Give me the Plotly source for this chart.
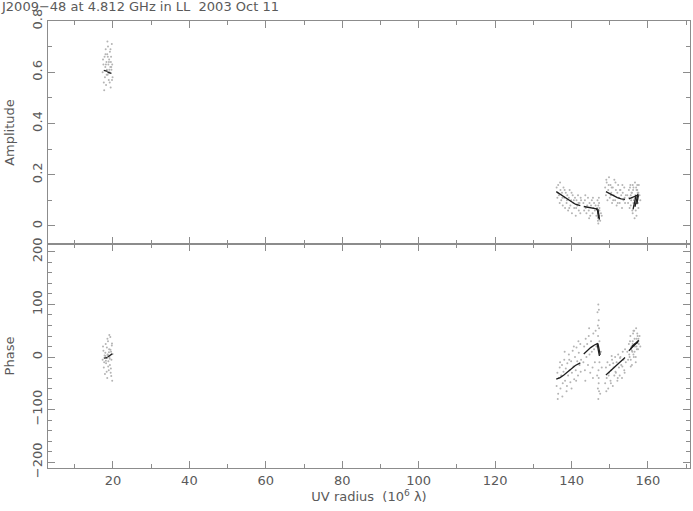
import plotly.graph_objects as go
from plotly.subplots import make_subplots

TITLE = "J2009\u221248 at 4.812 GHz in LL  2003 Oct 11"

# ---- observed visibilities (UV radius in 10^6 lambda, amplitude, phase deg) ----
u_g1 = [17.3,17.5,17.6,17.8,17.9,18.0,18.1,18.2,18.3,18.4,18.5,18.6,18.7,18.8,18.9,19.0,19.1,19.2,19.3,19.4,
        19.5,19.6,19.7,19.8,19.9,17.4,17.7,18.05,18.35,18.55,18.75,18.95,19.15,19.35,19.55,19.75,18.15,18.65,19.05,19.45]
amp_g1 = [0.60,0.63,0.56,0.66,0.58,0.62,0.69,0.55,0.64,0.61,0.67,0.59,0.70,0.63,0.57,0.65,0.60,0.68,0.62,0.54,
          0.66,0.61,0.71,0.63,0.58,0.65,0.53,0.67,0.59,0.72,0.60,0.64,0.56,0.69,0.62,0.57,0.63,0.66,0.61,0.64]
ph_g1 = [-5,12,-20,3,-32,8,25,-12,-2,18,-40,5,30,-8,-25,15,0,-15,38,-30,
         10,-5,22,-45,6,20,-10,2,-28,35,-18,9,-3,14,-36,26,-7,4,42,-22]

u_a = [136.1,136.3,136.5,136.7,136.9,137.1,137.3,137.5,137.7,137.9,138.1,138.3,138.5,138.7,138.9,139.1,139.3,
       139.5,139.7,139.9,140.1,140.3,140.5,140.7,140.9,141.1,141.3,141.5,141.7,141.9,142.1,142.3,142.5,
       136.4,137.0,137.6,138.2,138.8,139.4,140.0,140.6,141.2,141.8,142.4]
amp_a = [0.15,0.11,0.16,0.12,0.09,0.14,0.10,0.13,0.08,0.15,0.11,0.07,0.13,0.09,0.12,0.06,0.11,
         0.14,0.08,0.10,0.05,0.12,0.09,0.07,0.11,0.04,0.10,0.08,0.12,0.06,0.09,0.05,0.10,
         0.13,0.17,0.11,0.14,0.10,0.07,0.13,0.10,0.07,0.09,0.11]
ph_a = [-55,-30,-70,-40,-20,-60,-35,-15,-50,-28,-5,-45,-22,-65,-12,-35,5,
        -25,-48,-8,-30,12,-18,-42,0,-25,18,-8,-35,8,-15,25,-5,
        -80,-10,-75,10,-55,-5,-60,20,-45,30,-28]

u_b = [143.1,143.3,143.5,143.7,143.9,144.1,144.3,144.5,144.7,144.9,145.1,145.3,145.5,145.7,145.9,146.1,146.3,
       146.5,146.7,146.9,147.1,147.3,147.5,147.7,147.9,146.8,146.9,147.0,147.0,147.1,147.1,147.2,147.2,147.3,
       146.95,147.05,147.15,143.6,144.6,145.6]
amp_b = [0.09,0.06,0.10,0.07,0.05,0.08,0.11,0.06,0.09,0.04,0.08,0.10,0.05,0.07,0.09,0.06,0.08,
         0.04,0.07,0.05,0.03,0.06,0.02,0.05,0.04,0.10,0.02,0.08,0.01,0.06,0.03,0.09,0.04,0.07,
         0.05,0.03,0.11,0.12,0.03,0.11]
ph_b = [-10,20,-25,35,0,25,-15,40,5,-30,30,10,-20,45,15,-10,50,
        20,-35,60,-50,30,-70,10,-20,85,-60,100,-80,70,-40,55,-65,-10,
        40,-25,90,-45,55,-40]

u_c = [148.8,149.0,149.2,149.4,149.6,149.8,150.0,150.2,150.4,150.6,150.8,151.0,151.2,151.4,151.6,151.8,152.0,
       152.2,152.4,152.6,152.8,153.0,153.2,153.4,153.6,153.8,154.0,154.2,
       149.1,149.7,150.3,150.9,151.5,152.1,152.7,153.3,153.9,150.5]
amp_c = [0.15,0.12,0.17,0.10,0.14,0.19,0.11,0.16,0.13,0.09,0.15,0.12,0.18,0.10,0.14,0.08,0.13,
         0.16,0.11,0.09,0.14,0.12,0.07,0.13,0.10,0.15,0.09,0.12,
         0.18,0.16,0.12,0.10,0.17,0.09,0.14,0.16,0.11,0.15]
ph_c = [-50,-20,-40,-10,-60,-30,-15,-45,-25,-5,-55,-20,-35,0,-30,-10,-45,
        5,-20,-35,0,-15,-40,10,-5,-25,15,-10,
        -65,-35,-50,-12,-28,-40,-2,-18,-30,2]

u_d = [154.6,154.8,155.0,155.2,155.4,155.6,155.8,156.0,156.2,156.4,156.6,156.8,157.0,157.2,157.4,157.6,157.8,158.0,
       155.1,155.3,155.5,155.7,155.9,156.1,156.3,156.5,156.7,156.9,157.1,157.3,157.5,155.5,156.0,156.5,157.0,157.5,
       156.2,156.8,155.8,157.2]
amp_d = [0.12,0.09,0.14,0.07,0.16,0.10,0.13,0.05,0.15,0.08,0.17,0.11,0.04,0.14,0.09,0.16,0.12,0.10,
         0.11,0.15,0.08,0.13,0.06,0.14,0.10,0.03,0.12,0.15,0.09,0.13,0.07,0.12,0.16,0.11,0.14,0.13,
         0.09,0.06,0.11,0.16]
ph_d = [10,-5,25,0,40,15,-15,30,5,50,20,-10,35,45,15,25,40,20,
        5,30,-18,20,10,45,0,35,25,55,15,40,30,-5,25,10,20,35,
        50,0,12,28]

# ---- model curves: (u list, amplitude list) / (u list, phase list) per baseline track ----
model_amp = [
    ([17.6, 18.6], [0.607, 0.603]),
    ([18.6, 19.6], [0.600, 0.596]),
    ([136.0, 137.0, 138.0, 139.0, 140.0, 141.0, 142.3], [0.134, 0.124, 0.113, 0.102, 0.093, 0.085, 0.079]),
    ([143.2, 144.0, 145.0, 146.0, 146.9], [0.076, 0.074, 0.071, 0.068, 0.066]),
    ([146.5, 146.8, 146.95, 147.05], [0.068, 0.060, 0.045, 0.030]),
    ([146.9, 147.1, 147.2, 147.3], [0.066, 0.055, 0.040, 0.025]),
    ([149.0, 150.0, 151.0, 152.0, 153.0, 154.0], [0.134, 0.126, 0.118, 0.111, 0.106, 0.104]),
    ([155.0, 155.8, 156.6, 157.4], [0.106, 0.110, 0.116, 0.122]),
    ([156.9, 156.6, 156.3, 156.1], [0.120, 0.100, 0.080, 0.065]),
    ([157.4, 157.1, 156.8, 156.6], [0.125, 0.105, 0.090, 0.075]),
    ([157.5, 157.3, 157.1], [0.120, 0.100, 0.085]),
]
model_ph = [
    ([17.6, 18.6], [-2, -1]),
    ([18.6, 19.8], [0, 6]),
    ([136.0, 137.0, 138.0, 139.0, 140.0, 141.0, 142.3], [-42, -39, -34, -28, -22, -16, -11]),
    ([143.2, 144.0, 145.0, 146.0, 146.9], [6, 12, 18, 23, 26]),
    ([146.9, 147.1, 147.3, 147.5], [26, 20, 12, 4]),
    ([146.7, 146.9, 147.1, 147.3], [25, 18, 10, 2]),
    ([149.0, 150.0, 151.0, 152.0, 153.0, 154.0], [-34, -28, -21, -14, -7, -1]),
    ([155.0, 155.8, 156.6, 157.4], [12, 18, 24, 30]),
    ([155.4, 156.2, 157.0, 157.6], [16, 22, 27, 32]),
    ([155.8, 156.6, 157.4], [20, 25, 28]),
]

x_ticks = [20, 40, 60, 80, 100, 120, 140, 160]
amp_ticks = [0, 0.2, 0.4, 0.6, 0.8]
amp_tick_text = ["0", "0.2", "0.4", "0.6", "0.8"]
ph_ticks = [-200, -100, 0, 100, 200]
ph_tick_text = ["\u2212200", "\u2212100", "0", "100", "200"]

FRAME = "#8c8c8c"
TEXT = "#5a5a5a"
DOT = "#b4b4b4"
MODEL = "#1e1e1e"
FONT = "DejaVu Sans"

fig = make_subplots(rows=2, cols=1, shared_xaxes=True, vertical_spacing=0,
                    row_heights=[223, 224])

groups = [(u_g1, amp_g1, ph_g1), (u_a, amp_a, ph_a), (u_b, amp_b, ph_b),
          (u_c, amp_c, ph_c), (u_d, amp_d, ph_d)]
for uu, aa, pp in groups:
    fig.add_trace(go.Scatter(x=uu, y=aa, mode="markers",
                             marker=dict(size=2, color=DOT), showlegend=False), row=1, col=1)
    fig.add_trace(go.Scatter(x=uu, y=pp, mode="markers",
                             marker=dict(size=2, color=DOT), showlegend=False), row=2, col=1)

for uu, aa in model_amp:
    fig.add_trace(go.Scatter(x=uu, y=aa, mode="lines", line=dict(color=MODEL, width=1.3),
                             showlegend=False), row=1, col=1)
for uu, pp in model_ph:
    fig.add_trace(go.Scatter(x=uu, y=pp, mode="lines", line=dict(color=MODEL, width=1.3),
                             showlegend=False), row=2, col=1)

axis_common = dict(showline=True, linecolor=FRAME, linewidth=1, mirror="ticks",
                   ticks="inside", tickcolor=FRAME, showgrid=False, zeroline=False,
                   automargin=False,
                   tickfont=dict(family=FONT, size=13, color=TEXT))

fig.update_xaxes(**axis_common, range=[3, 171], tickvals=x_ticks, ticklen=7,
                 minor=dict(dtick=10, tick0=0, ticklen=4, ticks="inside", tickcolor=FRAME))
fig.update_xaxes(showticklabels=False, row=1, col=1)
fig.update_xaxes(title=dict(text="UV radius  (10<sup>6</sup> \u03bb)",
                            font=dict(family=FONT, size=13, color=TEXT), standoff=1),
                 row=2, col=1)

fig.update_yaxes(**axis_common, range=[-0.0703, 0.8], tickvals=amp_ticks, ticktext=amp_tick_text,
                 tickangle=-90, ticklen=7, ticklabelstandoff=0,
                 minor=dict(dtick=0.1, tick0=0, ticklen=4, ticks="inside", tickcolor=FRAME),
                 title=dict(text="Amplitude", font=dict(family=FONT, size=13, color=TEXT), standoff=12),
                 row=1, col=1)
fig.update_yaxes(**axis_common, range=[-211, 215], tickvals=ph_ticks, ticktext=ph_tick_text,
                 tickangle=-90, ticklen=7, ticklabelstandoff=0,
                 minor=dict(dtick=20, tick0=0, ticklen=4, ticks="inside", tickcolor=FRAME),
                 title=dict(text="Phase", font=dict(family=FONT, size=13, color=TEXT), standoff=12),
                 row=2, col=1)

fig.update_layout(
    width=693, height=511,
    margin=dict(l=48, r=3, t=21, b=43, autoexpand=False),
    paper_bgcolor="white", plot_bgcolor="white",
    showlegend=False,
    title=dict(text=TITLE, x=0.0, xanchor="left", xref="container", y=1, yref="container",
               yanchor="top", pad=dict(t=2, l=2),
               font=dict(family=FONT, size=13, color=TEXT)),
)

fig.write_html("out.html", config={"displayModeBar": False},
               post_script="document.body.style.margin='0';document.body.style.overflow='hidden';")
